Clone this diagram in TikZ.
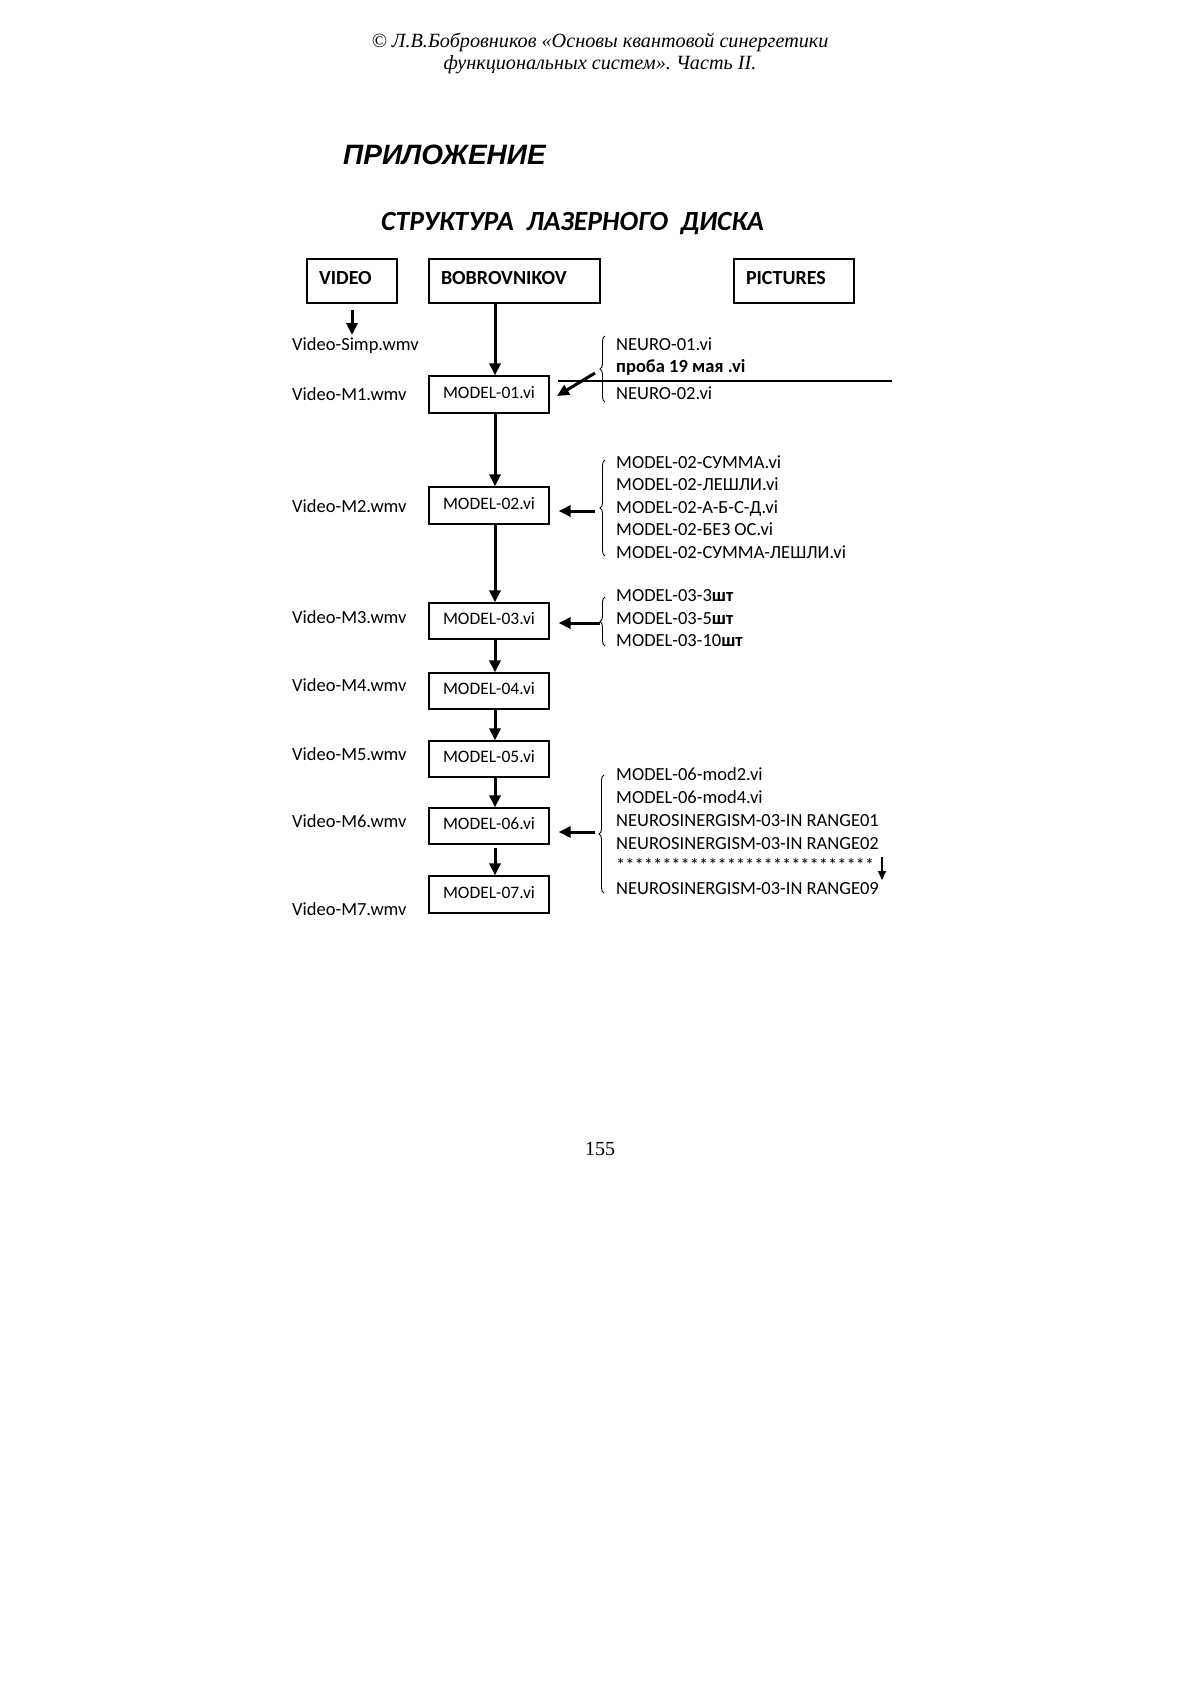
\documentclass[tikz,border=0pt]{standalone}
\usepackage{fontspec}
\setmainfont{Liberation Serif}
\newfontfamily\calfont{Carlito}
\newfontfamily\arialfont{Liberation Sans}
\usetikzlibrary{arrows.meta,decorations.pathreplacing}
\frenchspacing
\begin{document}
\begin{tikzpicture}[x=1bp,y=-1bp,
  box/.style={draw, line width=1.2bp, inner sep=0pt},
  topbox/.style={box, minimum height=44bp, inner xsep=12bp, align=left,
    font=\calfont\fontsize{20bp}{24bp}\selectfont\bfseries, text height=12bp, text depth=6bp},
  modbox/.style={box, minimum width=120bp, font=\calfont\fontsize{17.5bp}{21bp}\selectfont,
    text height=11.5bp, text depth=4.3bp},
  lbl/.style={anchor=base west, inner sep=0pt, font=\calfont\fontsize{18.5bp}{22bp}\selectfont},
  arr/.style={line width=3bp, -{Triangle[length=12bp,width=11bp]}},
  sarr/.style={line width=1.8bp, -{Triangle[length=9bp,width=8bp]}},
  br/.style={decorate, decoration={brace, amplitude=5bp}, line width=0.9bp},
  thin/.style={line width=1.3bp}
]
\fill[white] (0,0) rectangle (1200,1698);
\useasboundingbox (0,0) rectangle (1200,1698);

% header
\node[anchor=base, inner sep=0pt, font=\fontsize{20.2bp}{24bp}\selectfont\itshape] (h1) at (600,47)
  {© Л.В.Бобровников «Основы квантовой синергетики};
\node[anchor=base, inner sep=0pt, font=\fontsize{20.2bp}{24bp}\selectfont\itshape] (h2) at (600,69)
  {функциональных систем». Часть II.};
\node[anchor=base west, inner sep=0pt, font=\arialfont\fontsize{28bp}{32bp}\selectfont\bfseries\itshape] (app) at (343,164)
  {ПРИЛОЖЕНИЕ};
\node[anchor=base west, inner sep=0pt, font=\calfont\fontsize{27.7bp}{31bp}\selectfont\bfseries\itshape] (title) at (381,230)
  {СТРУКТУРА\ \ ЛАЗЕРНОГО\ \ ДИСКА};

% top boxes
\node[topbox, text width=66bp] (video) at (352,281) {VIDEO};
\node[topbox, text width=147bp] (bob) at (514.5,281) {BOBROVNIKOV};
\node[topbox, text width=96bp] (pict) at (794,281) {PICTURES};

% model boxes
\node[modbox, minimum height=37bp] (m01) at (489,394.5) {MODEL-01.vi};
\node[modbox, minimum height=37bp] (m02) at (489,505.5) {MODEL-02.vi};
\node[modbox, minimum height=36bp] (m03) at (489,621) {MODEL-03.vi};
\node[modbox, minimum height=36bp] (m04) at (489,691) {MODEL-04.vi};
\node[modbox, minimum height=36bp] (m05) at (489,759) {MODEL-05.vi};
\node[modbox, minimum height=36bp] (m06) at (489,826) {MODEL-06.vi};
\node[modbox, minimum height=37bp] (m07) at (489,894.5) {MODEL-07.vi};

% left labels
\node[lbl] (vsimp) at (292,350) {Video-Simp.wmv};
\node[lbl] (v1) at (292,400.5) {Video-M1.wmv};
\node[lbl] (v2) at (292,512) {Video-M2.wmv};
\node[lbl] (v3) at (292,623.5) {Video-M3.wmv};
\node[lbl] (v4) at (292,691) {Video-M4.wmv};
\node[lbl] (v5) at (292,760) {Video-M5.wmv};
\node[lbl] (v6) at (292,827) {Video-M6.wmv};
\node[lbl] (v7) at (292,915.5) {Video-M7.wmv};

% right lists
\node[lbl] (n1) at (616,350) {NEURO-01.vi};
\node[lbl] (n2) at (616,372) {\bfseries проба 19 мая .vi};
\node[lbl] (n3) at (616,399) {NEURO-02.vi};

\node[lbl] (p1) at (616,468) {MODEL-02-СУММА.vi};
\node[lbl] (p2) at (616,490.5) {MODEL-02-ЛЕШЛИ.vi};
\node[lbl] (p3) at (616,513) {MODEL-02-А-Б-С-Д.vi};
\node[lbl] (p4) at (616,535.5) {MODEL-02-БЕЗ ОС.vi};
\node[lbl] (p5) at (616,558) {MODEL-02-СУММА-ЛЕШЛИ.vi};

\node[lbl] (q1) at (616,601) {MODEL-03-3\textbf{шт}};
\node[lbl] (q2) at (616,624) {MODEL-03-5\textbf{шт}};
\node[lbl] (q3) at (616,646) {MODEL-03-10\textbf{шт}};

\node[lbl] (r1) at (616,780) {MODEL-06-mod2.vi};
\node[lbl] (r2) at (616,803) {MODEL-06-mod4.vi};
\node[lbl] (r3) at (616,826) {NEUROSINERGISM-03-IN RANGE01};
\node[lbl] (r4) at (616,849) {NEUROSINERGISM-03-IN RANGE02};
\node[lbl] (r5) at (616,871.5) {****************************};
\node[lbl] (r6) at (616,894) {NEUROSINERGISM-03-IN RANGE09};

% braces
\draw[br] (605,402) -- (605,336);
\draw[br] (605,556) -- (605,460);
\draw[br] (605,646) -- (605,597);
\draw[br] (604,893) -- (604,775);

% page number
\node[anchor=base, inner sep=0pt, font=\fontsize{20bp}{24bp}\selectfont] (pg) at (600,1155) {155};

% coordinates for free ends
\coordinate (vsimpTop) at (352,335);
\coordinate (a1s) at (595,373);
\coordinate (a1t) at (557,396);
\coordinate (a2s) at (595,511);
\coordinate (a3s) at (600,623);
\coordinate (a6s) at (595,832);
\coordinate (hl1) at (558,381);
\coordinate (hl2) at (892,381);
\coordinate (st1) at (882,857);
\coordinate (st2) at (882,880);

% arrows
\draw[arr, shorten <=6bp] (video.south) -- (vsimpTop);
\draw[arr] ([xshift=6bp]m01.north |- bob.south) -- ([xshift=6bp]m01.north);
\draw[arr] ([xshift=6bp]m01.south) -- ([xshift=6bp]m02.north);
\draw[arr] ([xshift=6bp]m02.south) -- ([xshift=6bp]m03.north);
\draw[arr] ([xshift=6bp]m03.south) -- ([xshift=6bp]m04.north);
\draw[arr] ([xshift=6bp]m04.south) -- ([xshift=6bp]m05.north);
\draw[arr] ([xshift=6bp]m05.south) -- ([xshift=6bp]m06.north);
\draw[arr, shorten <=3bp] ([xshift=6bp]m06.south) -- ([xshift=6bp]m07.north);

\draw[arr] (a1s) -- (a1t);
\draw[arr, shorten >=9bp] (a2s) -- (a2s -| m02.east);
\draw[arr, shorten >=9bp] (a3s) -- (a3s -| m03.east);
\draw[arr, shorten >=9bp] (a6s) -- (a6s -| m06.east);

\draw[thin] (hl1) -- (hl2);
\draw[sarr] (st1) -- (st2);
\end{tikzpicture}
\end{document}
